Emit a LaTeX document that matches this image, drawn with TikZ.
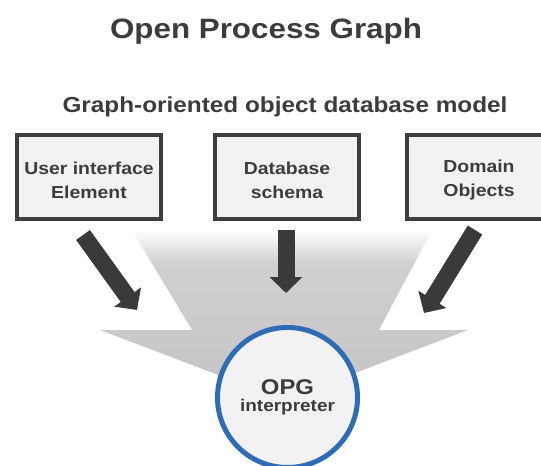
\documentclass[tikz,border=0pt]{standalone}
\usepackage{fontspec}
\setmainfont{Liberation Sans}[FakeStretch=1.12]
\usetikzlibrary{arrows.meta}

\definecolor{boxline}{RGB}{62,62,62}
\definecolor{boxfill}{RGB}{242,242,242}
\definecolor{textgray}{RGB}{60,60,60}
\definecolor{arrowgray}{RGB}{58,58,58}
\definecolor{funnelgray}{RGB}{208,208,208}
\definecolor{funneldark}{RGB}{196,196,196}
\definecolor{opgblue}{RGB}{46,108,182}

\newcommand\boxstrut{\rule{0pt}{14pt}}
\newcommand\cutpad{\hspace*{22pt}}

\begin{document}
\begin{tikzpicture}[x=0.75pt,y=0.75pt,yscale=-1,xscale=1,
  srcbox/.style={draw=boxline, line width=3pt, fill=boxfill, minimum width=108pt, minimum height=63pt,
    align=center, text=textgray, font=\bfseries\fontsize{13}{18}\selectfont},
  bigarrow/.style={draw=arrowgray, line width=12.75pt, -{Triangle[width=24pt,length=12pt]}},
  opgcircle/.style={circle, draw=opgblue, line width=3.75pt, fill=boxfill, minimum size=105pt,
    align=center, text=textgray, inner sep=0pt}]
\clip (0,0) rectangle (541,466);

%Shape: Funnel
\begin{scope}
\clip (133,232) -- (192,330) -- (100,330) -- (284,400) -- (468,330) -- (379,330) -- (431,232) -- cycle ;
\shade [top color=funnelgray, bottom color=funneldark] (90,262) rectangle (480,400) ;
\shade [top color=white, bottom color=funnelgray] (90,230) rectangle (480,263) ;
\end{scope}

% Text Node
\node [text=textgray, font=\bfseries\fontsize{21}{25}\selectfont] (title) at (266,31) {Open Process Graph};
% Text Node
\node [text=textgray, font=\bfseries\fontsize{16.3}{20}\selectfont] (model) at (285,107) {Graph-oriented object database model};

%Shape: Rectangle
\node [srcbox] (uie) at (89,177) {\boxstrut User interface\\Element};
%Shape: Rectangle
\node [srcbox] (dbs) at (287,177) {\boxstrut Database\\schema};
%Shape: Rectangle (runs off the right edge)
\node [srcbox, anchor=west, minimum width=130pt] (dom) at (405,177) {\boxstrut Domain\cutpad\\Objects\cutpad};

%Shape: Circle
\node [opgcircle] (opg) at (287.5,397.5) {{\bfseries\fontsize{16}{19}\selectfont OPG}\\[1pt]{\bfseries\fontsize{12.7}{15}\selectfont interpreter}};

\coordinate (uie-out) at (83,235);
\coordinate (uie-in) at (137,310);
\coordinate (dbs-out) at (286,230);
\coordinate (dbs-in) at (286,293);
\coordinate (dom-out) at (475,230);
\coordinate (dom-in) at (424,313);

%Straight Lines
\draw [bigarrow] (uie-out) -- (uie-in) ;
%Straight Lines
\draw [bigarrow] (dbs-out) -- (dbs-in) ;
%Straight Lines
\draw [bigarrow] (dom-out) -- (dom-in) ;

\end{tikzpicture}
\end{document}
